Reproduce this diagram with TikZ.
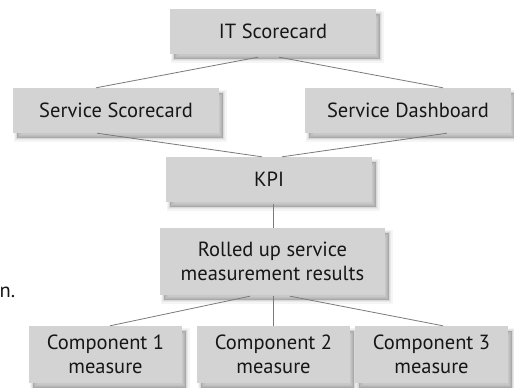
\documentclass[tikz,border=0pt]{standalone}
\usepackage{fontspec}
\setmainfont{PT Sans}
\usetikzlibrary{calc,shadows}
\definecolor{boxfill}{HTML}{D3D3D4}
\definecolor{linkgray}{HTML}{7A7A7A}
\definecolor{inktext}{HTML}{161616}
\tikzset{
  softshadow/.style={
    general shadow={shadow xshift=4pt,shadow yshift=-5pt,fill=black,draw=black,line width=7pt,opacity=.04},
    general shadow={shadow xshift=4pt,shadow yshift=-5pt,fill=black,draw=black,line width=4.5pt,opacity=.05},
    general shadow={shadow xshift=4pt,shadow yshift=-5pt,fill=black,draw=black,line width=2pt,opacity=.07},
    general shadow={shadow xshift=4pt,shadow yshift=-5pt,fill=black,opacity=.08}},
  card/.style={rectangle,fill=boxfill,softshadow,text=inktext,align=center,
    inner sep=0pt,font=\fontsize{20.5}{24.5}\selectfont},
  link/.style={draw=linkgray,line width=0.8pt}
}
\begin{document}
\begin{tikzpicture}[x=1pt,y=-1pt]
\useasboundingbox (0,0) rectangle (514,388);

\node[card,minimum width=206pt,minimum height=45pt] (it) at (273,31.5) {IT Scorecard};
\node[card,minimum width=206pt,minimum height=45pt] (ss) at (116,110.5) {Service Scorecard};
\node[card,minimum width=206pt,minimum height=45pt] (sd) at (408,110.5) {Service Dashboard};
\node[card,minimum width=206pt,minimum height=45pt] (kpi) at (269,179.5) {KPI};
\node[card,minimum width=225pt,minimum height=67pt] (roll) at (272.5,261.5) {Rolled up service\\measurement results};
\node[card,minimum width=153pt,minimum height=57pt] (c1) at (105.5,354.5) {Component 1\\measure};
\node[card,minimum width=153pt,minimum height=57pt] (c2) at (273.5,354.5) {Component 2\\measure};
\node[card,minimum width=153pt,minimum height=57pt] (c3) at (431.5,354.5) {Component 3\\measure};

\node[anchor=base west,inner sep=0pt,text=inktext,font=\fontsize{20.5}{24.5}\selectfont] (cut) at (-0.5,297) {n.};

% connectors
\draw[link] ($(it.south)+(-15,3)$) -- ($(ss.north)+(-20,0)$);
\draw[link] ($(it.south)+(6,3)$) -- ($(sd.north)+(35,0)$);
\draw[link] ($(ss.south)+(-19,0)$) -- ($(kpi.north)+(-7,0)$);
\draw[link] ($(sd.south)+(39,0)$) -- ($(kpi.north)+(13,0)$);
\draw[link] ($(kpi.south)+(4,2)$) -- ($(roll.north)+(0.5,0)$);
\draw[link] ($(roll.south)+(-22.5,1)$) -- ($(c1.north)+(4.5,0)$);
\draw[link] ($(roll.south)+(0.5,1)$) -- ($(c2.north)+(-0.5,0)$);
\draw[link] ($(roll.south)+(17.5,1)$) -- ($(c3.north)+(11.5,0)$);
\end{tikzpicture}
\end{document}
